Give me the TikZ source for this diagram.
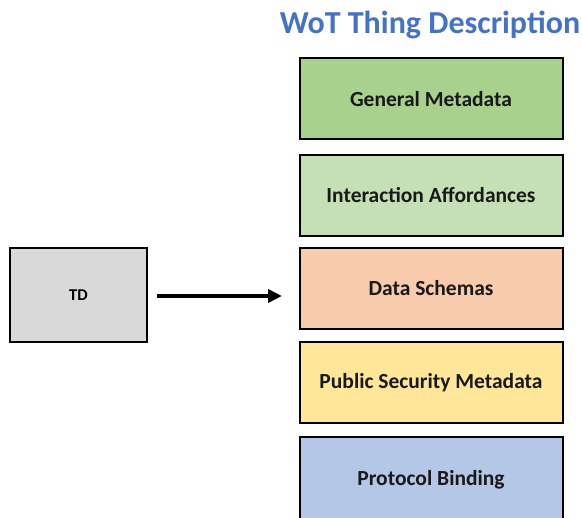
\documentclass[tikz,border=0pt]{standalone}
\usepackage{fontspec}
\setmainfont{Carlito}
\usetikzlibrary{arrows.meta}
\definecolor{titleblue}{HTML}{4472C4}
\definecolor{cgeneral}{HTML}{A9D18E}
\definecolor{cinter}{HTML}{C5E0B4}
\definecolor{cdata}{HTML}{F8CBAD}
\definecolor{csec}{HTML}{FFE699}
\definecolor{cproto}{HTML}{B4C7E7}
\definecolor{ctd}{HTML}{D9D9D9}
\tikzset{
  labelfont/.style={font=\fontsize{21.5}{24}\selectfont\bfseries, text=black!90},
  layer/.style={draw=black, line width=2pt, minimum width=263pt, minimum height=81pt,
    inner sep=0pt, labelfont},
}
\begin{document}
\begin{tikzpicture}[x=1pt, y=-1pt]
  \useasboundingbox (0,0) rectangle (582,518);
  \clip (0,0) rectangle (582,518);
  % title
  \node[text=titleblue, font=\fontsize{32}{36}\selectfont\bfseries, anchor=center]
    (title) at (430,25) {WoT Thing Description};
  % stacked description layers
  \node[layer, fill=cgeneral] (gen)   at (431,99)  {General Metadata};
  \node[layer, fill=cinter]   (inter) at (431,195.5) {Interaction Affordances};
  \node[layer, fill=cdata]    (data)  at (431,288.5) {Data Schemas};
  \node[layer, fill=csec]     (sec)   at (431,382.5) {Public Security Metadata};
  \node[layer, fill=cproto, minimum height=95pt] (proto) at (431,484.5) {};
  \node[labelfont] (protolbl) at (431,480) {Protocol Binding};
  % source document
  \node[draw=black, line width=2pt, fill=ctd, minimum width=137pt, minimum height=94pt,
    inner sep=0pt, font=\fontsize{16.5}{19}\selectfont\bfseries] (td) at (78.5,295) {TD};
  % arrow
  \coordinate (start) at (157,296);
  \coordinate (tip) at (282,296);
  \draw[line width=3.5pt, -{Triangle[length=14pt, width=13pt]}] (start) -- (tip);
\end{tikzpicture}
\end{document}
